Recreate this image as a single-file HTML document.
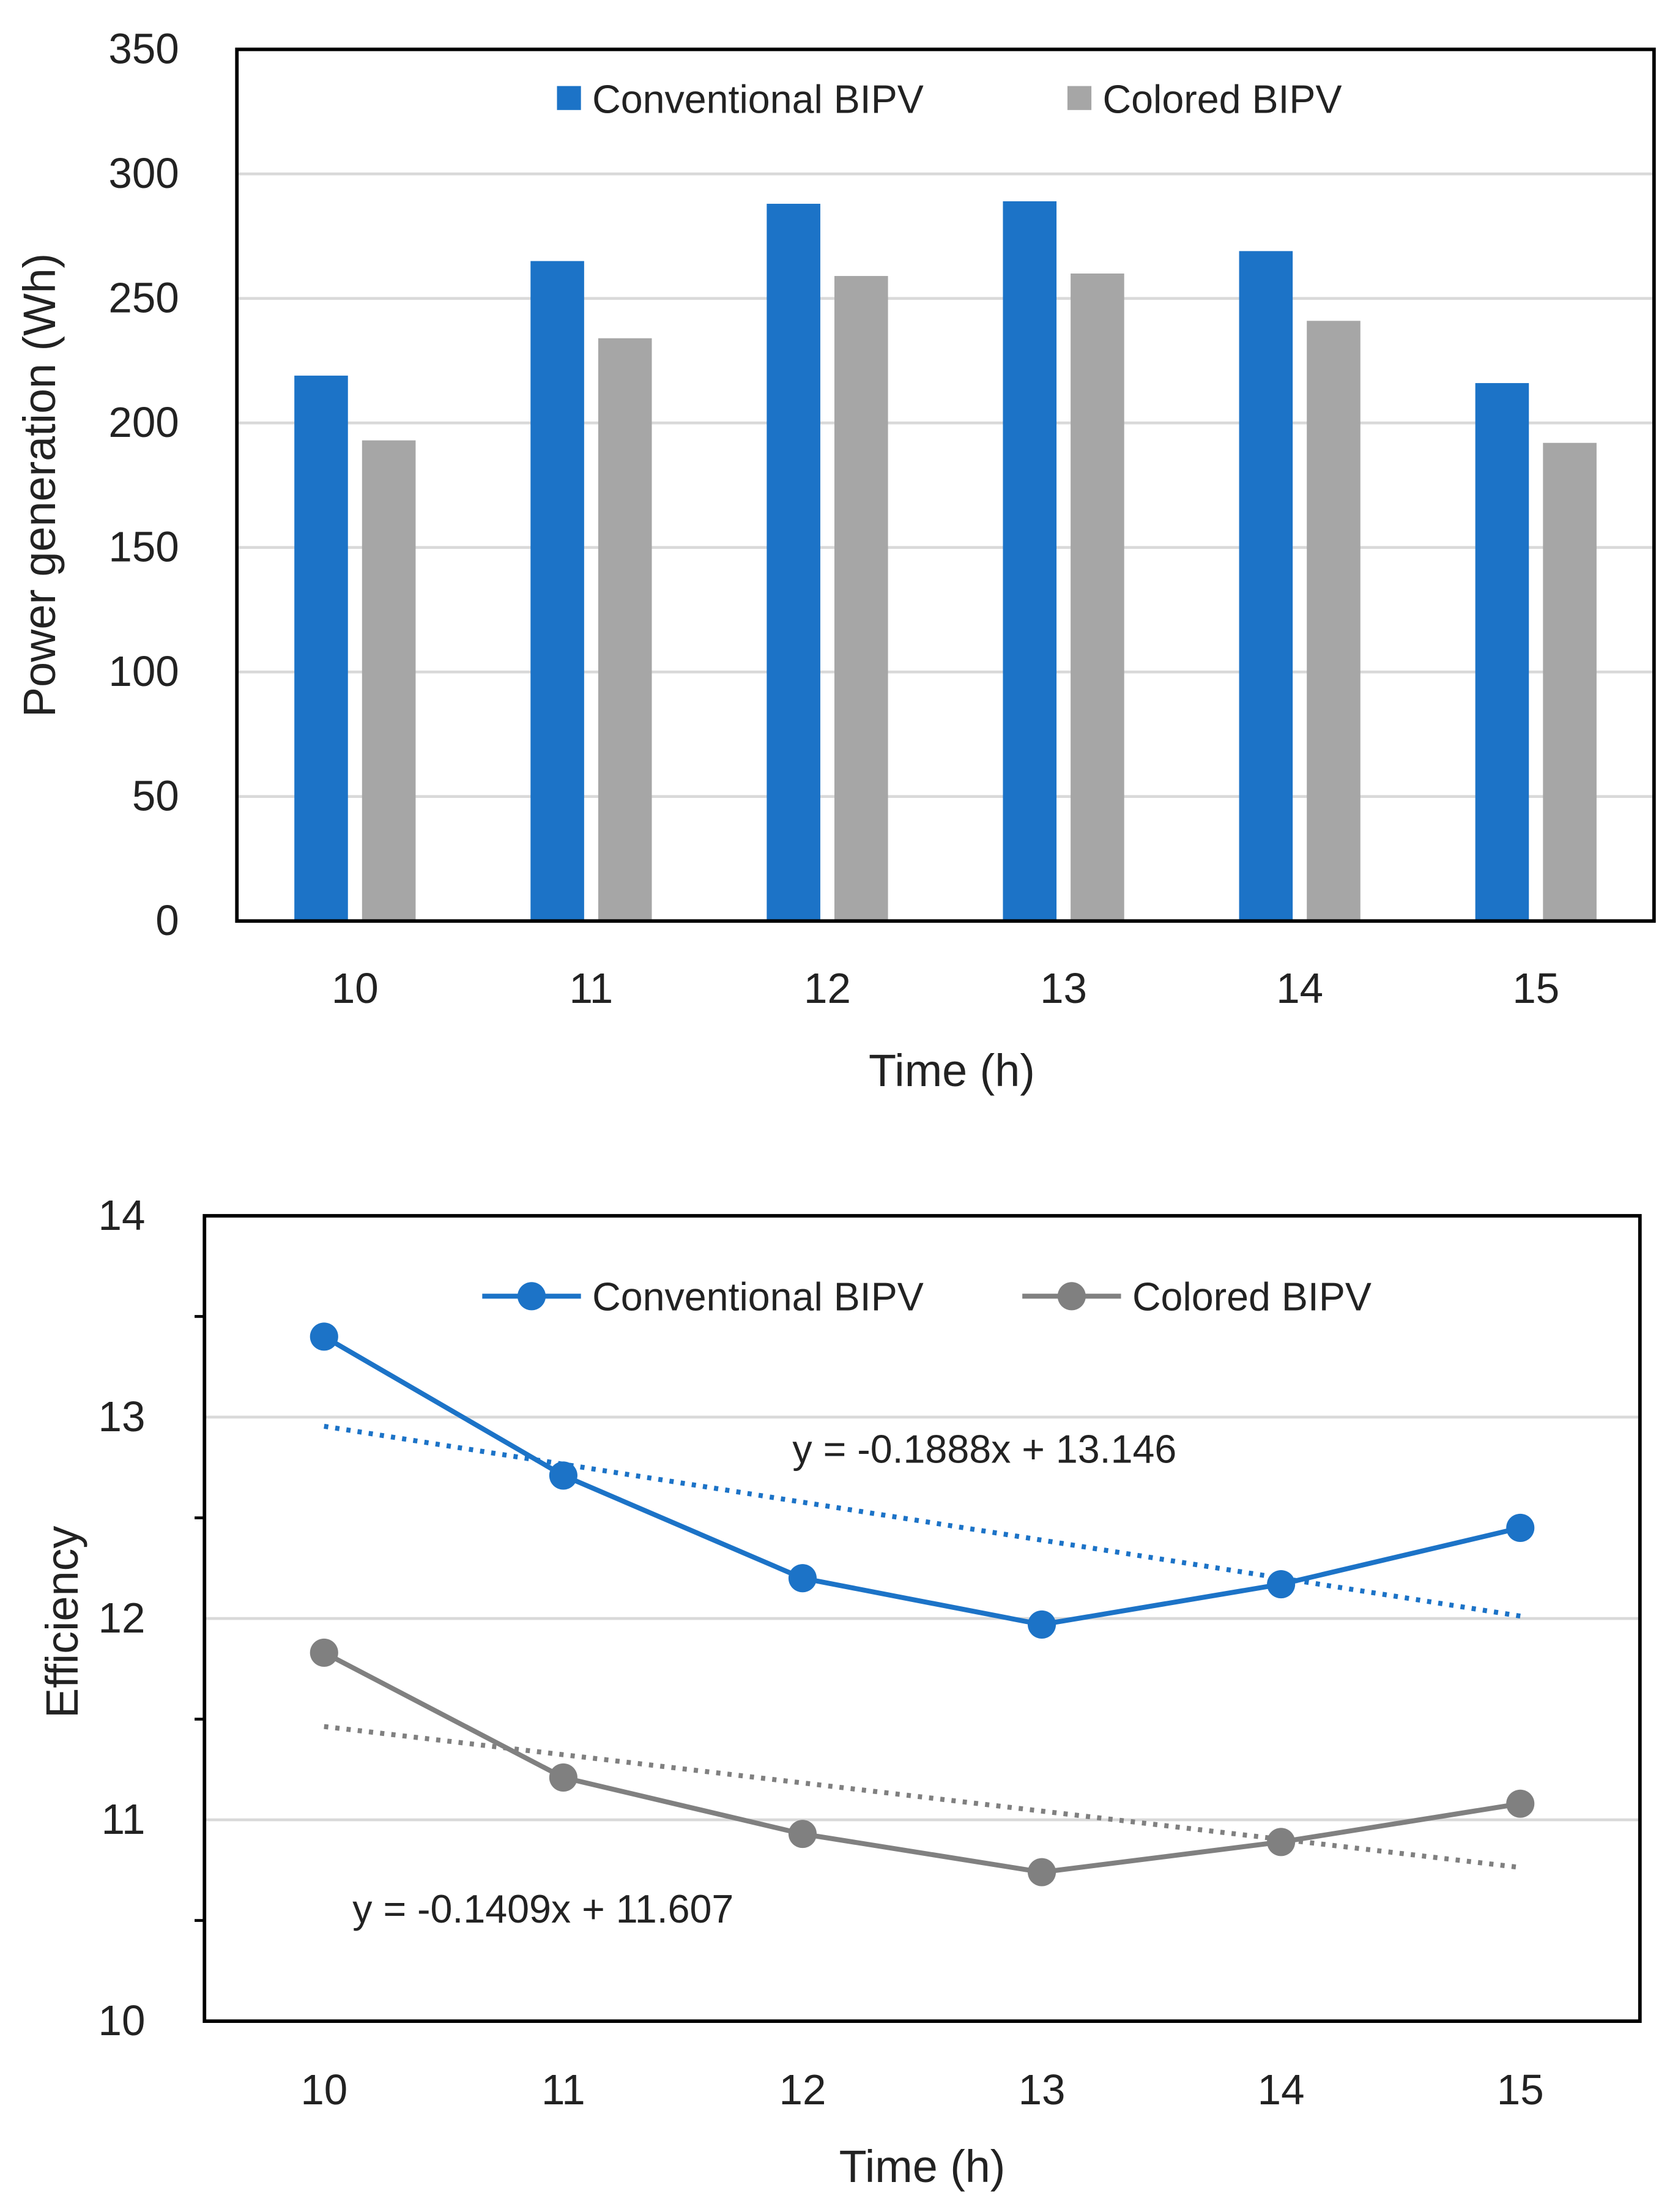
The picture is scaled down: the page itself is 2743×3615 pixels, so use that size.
<!DOCTYPE html>
<html><head><meta charset="utf-8"><style>html,body{margin:0;padding:0;background:#fff}svg{display:block}text{font-family:"Liberation Sans",sans-serif;fill:#222}</style></head>
<body>
<svg id="s" width="2743" height="3615" viewBox="0 0 1190 1568.3" xmlns="http://www.w3.org/2000/svg"></svg>
<script>
const categories=["10","11","12","13","14","15"];
const convPower=[219,265,288,289,269,216];
const colPower=[193,234,259,260,241,192];
const powerTicks=[0,50,100,150,200,250,300,350];
const convEff=[13.40,12.71,12.20,11.97,12.17,12.45];
const colEff=[11.83,11.21,10.93,10.74,10.89,11.08];
const effTicks=[10,11,12,13,14];
const convEq="y = -0.1888x + 13.146";
const colEq="y = -0.1409x + 11.607";

const NS="http://www.w3.org/2000/svg",S=document.getElementById('s');
const BLUE="#1c73c7",GRAYBAR="#a6a6a6",GRAYLINE="#808080";
function mk(tag,attrs,parent,txt){const e=document.createElementNS(NS,tag);for(const k in attrs)e.setAttribute(k,attrs[k]);if(txt!==undefined)e.textContent=txt;(parent||S).appendChild(e);return e;}

// ---- Top chart
const T={x0:168,x1:1173,y0:35,y1:653,max:350};
const ty=v=>T.y1-(v/T.max)*(T.y1-T.y0);
const band=(T.x1-T.x0)/categories.length;
const tx=i=>T.x0+band*(i+0.5);
const g1=mk('g',{});


powerTicks.forEach(v=>{
  if(v>0&&v<T.max){const l=mk('line',{x1:T.x0,x2:T.x1,y1:ty(v),y2:ty(v),stroke:"#d9d9d9","stroke-width":2},g1);
  }
  const t=mk('text',{x:127,y:ty(v)+10,"text-anchor":"end","font-size":30},g1,v);
  
});
categories.forEach((c,i)=>{
  const b=mk('rect',{x:tx(i)-43,y:ty(convPower[i]),width:38,height:T.y1-ty(convPower[i]),fill:BLUE},g1);
  
  const b2=mk('rect',{x:tx(i)+5,y:ty(colPower[i]),width:38,height:T.y1-ty(colPower[i]),fill:GRAYBAR},g1);
  
  const t=mk('text',{x:tx(i),y:711,"text-anchor":"middle","font-size":30},g1,c);
  
});
let f=mk('rect',{x:T.x0,y:T.y0,width:T.x1-T.x0,height:T.y1-T.y0,fill:"none",stroke:"#000","stroke-width":2.5},g1);

let e;
e=mk('rect',{x:395,y:61,width:17,height:17,fill:BLUE},g1);
e=mk('text',{x:420,y:80,"font-size":28},g1,"Conventional BIPV");
e=mk('rect',{x:757,y:61,width:17,height:17,fill:GRAYBAR},g1);
e=mk('text',{x:782,y:80,"font-size":28},g1,"Colored BIPV");
e=mk('text',{x:675,y:770,"text-anchor":"middle","font-size":32},g1,"Time (h)");
e=mk('text',{x:0,y:0,"text-anchor":"middle","font-size":32,transform:"translate(39,344) rotate(-90)"},g1,"Power generation (Wh)");

// ---- Bottom chart
const B={x0:145,x1:1163,y0:862,y1:1433,min:10,max:14};
const by=v=>B.y1-(v-B.min)/(B.max-B.min)*(B.y1-B.y0);
const bband=(B.x1-B.x0)/categories.length;
const bx=i=>B.x0+bband*(i+0.5);
const g2=mk('g',{});


effTicks.forEach(v=>{
  if(v>B.min&&v<B.max){const l=mk('line',{x1:B.x0,x2:B.x1,y1:by(v),y2:by(v),stroke:"#d9d9d9","stroke-width":2},g2);
  }
  const t=mk('text',{x:103,y:by(v)+10,"text-anchor":"end","font-size":30},g2,v);
  
  if(v<B.max){const m=mk('line',{x1:B.x0-7,x2:B.x0,y1:by(v+0.5),y2:by(v+0.5),stroke:"#000","stroke-width":2},g2);
  }
});
categories.forEach((c,i)=>{
  const t=mk('text',{x:bx(i),y:1492,"text-anchor":"middle","font-size":30},g2,c);
  
});
function trend(vals){const n=vals.length;let sx=0,sy=0,sxy=0,sxx=0;vals.forEach((v,i)=>{const x=i+1;sx+=x;sy+=v;sxy+=x*v;sxx+=x*x;});
  const m=(n*sxy-sx*sy)/(n*sxx-sx*sx);return [m,(sy-m*sx)/n];}
function series(vals,color,name){
  const [m,c]=trend(vals);const n=vals.length;
  const tl=mk('line',{x1:bx(0),y1:by(m*1+c),x2:bx(n-1),y2:by(m*n+c),stroke:color,"stroke-width":3.5,"stroke-dasharray":"3 5"},g2);
  
  const p=mk('polyline',{points:vals.map((v,i)=>bx(i)+','+by(v)).join(' '),fill:"none",stroke:color,"stroke-width":3.5},g2);
  
  vals.forEach((v,i)=>{const d=mk('circle',{cx:bx(i),cy:by(v),r:10,fill:color},g2);
    });
}
series(convEff,BLUE,'conventional');
series(colEff,GRAYLINE,'colored');
f=mk('rect',{x:B.x0,y:B.y0,width:B.x1-B.x0,height:B.y1-B.y0,fill:"none",stroke:"#000","stroke-width":2.5},g2);

e=mk('line',{x1:342,x2:412,y1:919,y2:919,stroke:BLUE,"stroke-width":3.5},g2);
e=mk('circle',{cx:377,cy:919,r:10,fill:BLUE},g2);
e=mk('text',{x:420,y:929,"font-size":28},g2,"Conventional BIPV");
e=mk('line',{x1:725,x2:795,y1:919,y2:919,stroke:GRAYLINE,"stroke-width":3.5},g2);
e=mk('circle',{cx:760,cy:919,r:10,fill:GRAYLINE},g2);
e=mk('text',{x:803,y:929,"font-size":28},g2,"Colored BIPV");
e=mk('text',{x:562,y:1037,"font-size":28},g2,convEq);
e=mk('text',{x:250,y:1363,"font-size":28},g2,colEq);
e=mk('text',{x:654,y:1547,"text-anchor":"middle","font-size":32},g2,"Time (h)");
e=mk('text',{x:0,y:0,"text-anchor":"middle","font-size":32,transform:"translate(55,1150) rotate(-90)"},g2,"Efficiency");
</script>
</body></html>
